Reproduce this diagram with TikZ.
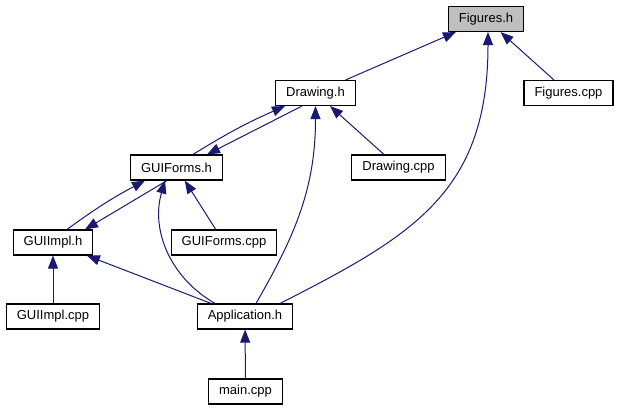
\documentclass[tikz,border=0pt]{standalone}
\usepackage{fontspec}
\setmainfont{Liberation Sans}
\usetikzlibrary{arrows.meta}
\definecolor{edgeblue}{HTML}{191970}
\definecolor{boxgray}{HTML}{BFBFBF}

\begin{document}
\begin{tikzpicture}[x=1pt,y=-1pt,
        file/.style={draw=black, fill=white, line width=1.1pt, inner xsep=10.5pt, inner ysep=0pt,
            minimum height=25pt, font=\fontsize{13}{15}\selectfont},
        dep/.style={draw=edgeblue, line width=1pt, -{Triangle[length=13pt,width=10pt,fill=edgeblue]}}]
        \useasboundingbox (0,0) rectangle (620,411);
        % files
        \node[file, fill=boxgray] (figh) at (486,19) {Figures.h};
        \node[file] (drwh) at (315.5,93) {Drawing.h};
        \node[file] (figc) at (568.5,93) {Figures.cpp};
        \node[file] (guifh) at (176.5,167.5) {GUIForms.h};
        \node[file] (drwc) at (398.5,167.5) {Drawing.cpp};
        \node[file] (guiih) at (53,242.5) {GUIImpl.h};
        \node[file] (guifc) at (224,242.5) {GUIForms.cpp};
        \node[file] (guiic) at (53,316.5) {GUIImpl.cpp};
        \node[file] (apph) at (245,316.5) {Application.h};
        \node[file] (mainc) at (245.5,391.5) {main.cpp};
        % includes
        \draw[dep] (drwh) -- (figh);
        \draw[dep] (figc) -- (figh);
        \draw[dep] ([xshift=35pt]apph.north) to[out=27,in=-90,out distance=150pt,in distance=160pt] ([xshift=2pt]figh.south);
        \draw[dep] ([xshift=16.5pt]guifh.north) to[bend left=4] ([xshift=-30.5pt]drwh.south);
        \draw[dep] ([xshift=-13.5pt]drwh.south) -- ([xshift=30.5pt]guifh.north);
        \draw[dep] ([xshift=11pt]apph.north) to[out=60,in=-90] (drwh.south);
        \draw[dep] (drwc) -- (drwh);
        \draw[dep] ([xshift=14pt]guiih.north) to[bend left=4] ([xshift=-31.5pt]guifh.south);
        \draw[dep] ([xshift=-9.5pt]guifh.south) -- ([xshift=32pt]guiih.north);
        \draw[dep] ([xshift=-30pt]apph.north) to[out=150,in=-106] ([xshift=-11.5pt]guifh.south);
        \draw[dep] (guifc) -- (guifh);
        \draw[dep] (apph) -- (guiih);
        \draw[dep] (guiic) -- (guiih);
        \draw[dep] (mainc) -- (apph);
    \end{tikzpicture}
\end{document}
